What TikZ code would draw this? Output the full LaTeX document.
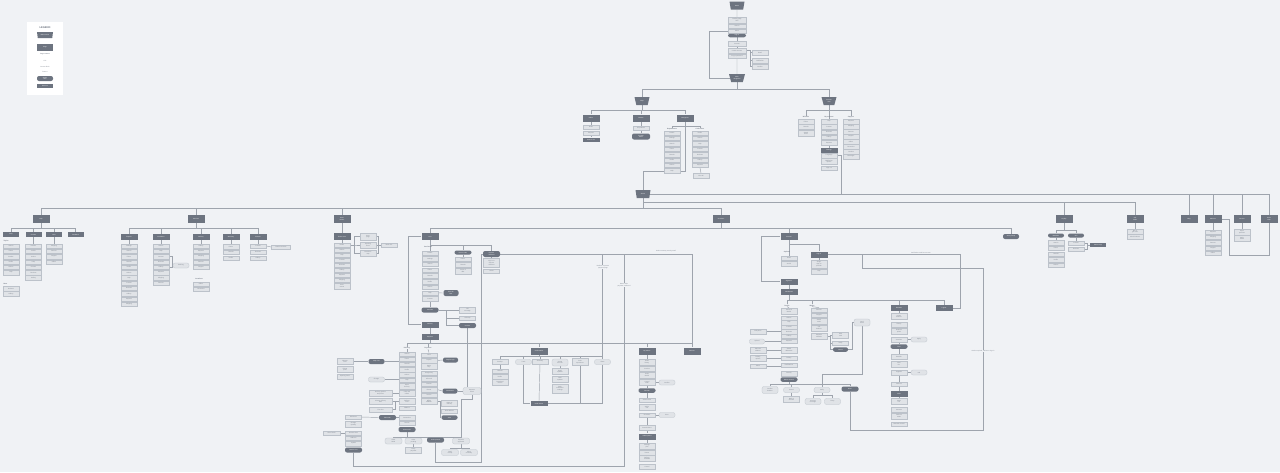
\documentclass[tikz,border=0pt]{standalone}
\usepackage{fontspec}
\setmainfont{Liberation Sans}
\usetikzlibrary{shapes.geometric}
\definecolor{bgc}{HTML}{F0F2F5}
\definecolor{dk}{HTML}{6D7480}
\definecolor{lt}{HTML}{E0E3E7}
\definecolor{ltb}{HTML}{BCC2CA}
\definecolor{lnc}{HTML}{9EA4AD}
\definecolor{tx}{HTML}{767D88}
\pgfdeclarelayer{bottom}\pgfdeclarelayer{back}
\pgfsetlayers{bottom,back,main}
\newcommand\tf{\fontsize{1.5}{1.7}\selectfont}
\newcommand\tfb{\fontsize{1.6}{1.8}\selectfont\bfseries}
\newcommand\lblword[1]{\ifcase#1 Overview\or Details\or Settings\or Search\or Filters\or Results\or Profile\or Orders\or Help\or Contact\or Reviews\or Gallery\or Payment\or Shipping\or Returns\or Support\or Offers\or Favourites\or Location\or Messages\fi}
\newcommand\lcol[6]{\foreach \i in {1,...,#4}{\pgfmathtruncatemacro\kk{mod(\i+#6,20)}\node[lb] (#1\i) at (#2,{#3+(\i-1)*#5}) {\lblword{\kk}};}}
\tikzset{
 cn/.style={draw=lnc, line width=0.45pt},
 db/.style={rectangle, fill=dk, text=white, font=\tf, align=center, minimum width=17pt, minimum height=7pt, inner sep=0.3pt},
 dp/.style={db, rounded corners=2pt, minimum height=5pt},
 lb/.style={rectangle, fill=lt, draw=ltb, line width=0.25pt, text=tx, font=\tf, align=center, minimum width=16pt, minimum height=4.4pt, inner sep=0.3pt},
 lp/.style={lb, rounded corners=2pt, minimum height=5pt},
 hd/.style={text=dk, font=\tfb, inner sep=0.3pt},
 note/.style={text=tx, font=\tf, align=center, inner sep=0.4pt},
 tr/.style={trapezium, trapezium angle=68, trapezium stretches=true, shape border rotate=180, fill=dk, text=white, font=\tf, align=center, minimum width=15pt, minimum height=8pt, inner sep=0pt},
 hh/.style={minimum height=#1pt}, ww/.style={minimum width=#1pt},
}
\begin{document}
\begin{tikzpicture}[x=1pt,y=-1pt]
\begin{pgfonlayer}{bottom}
\fill[bgc] (0,0) rectangle (1280,472);
\end{pgfonlayer}
\useasboundingbox (0,0) rectangle (1280,472);

% ---------- legend
\node[fill=white, minimum width=36pt, minimum height=73pt, inner sep=0pt] (leg) at (45,58.5) {};
\node[text=dk, font=\fontsize{2.6}{3}\selectfont\bfseries] (legt) at (45,27.5) {LEGEND};
\node[tr, minimum width=16pt, minimum height=6pt] (legA) at (45,35) {Main section};
\node[db, ww=16] (legB) at (45,47) {Page};
\node[note] (legC) at (45,54) {\bfseries Page content};
\node[note] (legD) at (45,61) {Link};
\node[note] (legE) at (45,66.5) {Content block};
\node[note] (legF) at (45,72) {Feature};
\node[dp, ww=16] (legG) at (45,78.5) {Action\\flow};
\node[db, ww=16, hh=4] (legH) at (45,85.5) {External};

% ---------- top
\node[tr] (t0) at (737,5.5) {Home};
\node[lb, ww=18, hh=6] (a1) at (737,20) {Landing page\\hero};
\node[lb, ww=18] (a2) at (737,26) {Search};
\node[lb, ww=18] (a3) at (737,31) {Menu};
\node[dp, ww=18, hh=3.5] (a4) at (737,35.5) {Sign in};
\node[lb, ww=18] (a5) at (737,43.5) {Account};
\node[lb, ww=18, hh=5] (a6) at (737,50.5) {Create account};
\node[lb, ww=18] (a7) at (737,56) {Forgot password};
\node[lb] (b1) at (760,52.5) {Email};
\node[lb, hh=5] (b2) at (760,60.5) {Verification};
\node[lb] (b3) at (760,66.5) {Confirm};
\node[tr, ww=16] (t1) at (737,78) {Main\\navigation};
\node[tr] (t2) at (642,101) {Shop};
\node[tr] (t3) at (829,101) {Account\\area};

% ---------- second row
\node[db] (c1) at (591,118) {Offers};
\node[db] (c2) at (641,118) {Browse};
\node[db] (c3) at (685,118) {Categories};
\node[lb] (c1a) at (591,127) {Deals};
\node[lb] (c1b) at (591,133) {Coupons};
\node[db, hh=4] (c1c) at (591,139.5) {Partner site};
\node[lb] (c2a) at (641,128) {All products};
\node[dp, ww=18, hh=6] (c2b) at (641,136.5) {Product\\detail};
\node[hd] (c3h1) at (672,129) {Departments};
\node[hd] (c3h2) at (700,129) {Collections};
\lcol{c3l}{672}{133}{8}{5.4}{0}
\lcol{c3r}{700}{133}{7}{5.4}{5}
\node[lb] (c3x) at (701,175.5) {View all};

\node[hd] (d1h) at (806,117) {Wishlist};
\lcol{d1}{806}{121.5}{2}{5}{3}
\node[lb, hh=6] (d1c) at (806,133.5) {Saved\\items};
\node[hd] (d2h) at (829,117) {My account};
\lcol{d2}{829}{121.5}{5}{5.3}{7}
\node[db, hh=5] (d2f) at (829,150.5) {Settings};
\node[lb] (d2g) at (829,155.5) {Language};
\node[lb, hh=6] (d2h) at (829,161.5) {Notification\\options};
\node[lb] (d2i) at (829,168) {Sign out};
\node[hd] (d3h) at (851,117) {Support};
\lcol{d3}{851}{121.5}{8}{5}{11}

% ---------- level 3
\node[tr] (t4) at (643,194) {Stores};
\node[db, hh=8] (n41) at (41,219) {Help};
\node[db, hh=8] (n196) at (196,219) {Services};
\node[db, hh=8] (n342) at (342,219) {Store\\locator};
\node[db, hh=8] (n721) at (721,219) {Checkout};
\node[db, hh=8] (n1064) at (1064,219) {Loyalty};
\node[db, hh=8] (n1135) at (1135,219) {Gift\\cards};
\node[db, hh=8] (n1189) at (1189,219) {Blog};
\node[db, hh=8] (n1213) at (1213,219) {About us};
\node[db, hh=8] (n1242) at (1242,219) {Careers};
\node[db, hh=8] (n1269) at (1269,219) {Press\\room};

% help
\node[db, hh=5, ww=16] (e1) at (11,234.5) {FAQ};
\node[db, hh=5, ww=16] (e2) at (33.5,234.5) {Contact};
\node[db, hh=5, ww=16] (e3) at (54,234.5) {Chat};
\node[db, hh=5, ww=16] (e4) at (75.5,234.5) {Feedback};
\node[hd, anchor=west] (e1h) at (3,241) {Topics};
\lcol{e1c}{11}{246}{6}{5.3}{2}
\node[hd, anchor=west] (e1k) at (3,284) {More};
\lcol{e1d}{11}{288.5}{2}{5.3}{9}
\lcol{e2c}{33.5}{246}{7}{5.3}{4}
\lcol{e3c}{54}{246}{4}{5.3}{12}

% services
\node[db, hh=6] (f1) at (129,237) {Repairs};
\node[db, hh=6] (f2) at (161,237) {Installation};
\node[db, hh=6] (f3) at (201,237) {Delivery};
\node[db, hh=6] (f4) at (231,237) {Warranty};
\node[db, hh=6] (f5) at (258,237) {Rentals};
\lcol{f1c}{129}{246}{12}{5.3}{1}
\lcol{f2c}{161}{246}{8}{5.3}{6}
\node[lp] (f2p) at (181,265.5) {Booking};
\lcol{f3c}{201}{246}{5}{5.3}{10}
\node[hd] (f3h) at (199,279) {Locations};
\lcol{f3d}{201}{284}{2}{5.3}{15}
\lcol{f4c}{231}{246.5}{3}{5.8}{3}
\lcol{f5c}{258}{246}{3}{6}{8}
\node[lb, ww=19] (f5x) at (281,247) {Partner services};

% store locator
\node[db] (g0) at (342,236.5) {Find a store};
\lcol{gc}{342}{245}{8}{5}{5}
\node[lb, hh=6] (g9) at (342,286) {Store\\events};
\node[lb, hh=7] (g2a) at (368,236.5) {Store\\page};
\node[lb, hh=6] (g2b) at (368,245) {Opening\\hours};
\node[lb, hh=6] (g2c) at (368,253) {Directions\\map};
\node[lb] (g3) at (389,245) {Book visit};

% ---------- checkout / cart region
\node[db] (h0) at (430,236.5) {Cart};
\node[dp, hh=4] (hp1) at (463,252.5) {Promo code};
\node[dp, hh=6] (hp2) at (491.5,254) {Express\\checkout};
\node[hd] (hh0) at (428,247) {Cart items};
\lcol{hc}{430}{253}{9}{5.7}{0}
\node[dp, ww=15, hh=6] (hq) at (451,293) {Save for\\later};
\node[dp, hh=5] (hr) at (430,310) {Continue};
\node[lb, hh=6] (hs1) at (467.5,310) {Gift\\message};
\node[lb] (hs2) at (467.5,318) {Gift wrap};
\node[dp] (hs3) at (467.5,325.5) {Confirm};
\node[db, hh=6] (ht) at (430,324.5) {Delivery};
\node[db, hh=6] (hu) at (430,337) {Payment};
\lcol{hpa}{463}{259}{2}{5.5}{3}
\node[lb, hh=6] (hpa3) at (463,271) {Terms of\\offer};
\node[lb, hh=9] (hpb1) at (491.5,263) {Sign in to\\express\\checkout};
\node[lb] (hpb2) at (491.5,271) {Guest};

\node[hd] (hh1) at (407,348) {Delivery};
\node[hd] (hh2) at (428,348) {Payment};
\lcol{hL}{407}{354}{6}{5.2}{2}
\node[lb, hh=6] (hL7) at (407,386) {Home\\delivery};
\node[lb, hh=6] (hL8) at (407,393) {Click and\\collect};
\node[lb, hh=6] (hL9) at (407,401.5) {Delivery\\slots};
\node[lb] (hL10) at (407,408) {Address};
\node[lb] (hL11) at (407,417.5) {Instructions};
\node[lb] (hL12) at (407,423) {Review};
\node[dp, hh=5] (hLd) at (407,429.5) {Place order};
\node[lb] (hM1) at (429,355) {Card};
\node[lb] (hM2) at (429,360.5) {PayPal};
\node[lb, hh=6] (hM3) at (429,366.5) {Apple\\Pay};
\node[lb] (hM4) at (429,373) {Google Pay};
\node[lb] (hM5) at (429,378.5) {Gift card};
\node[lb] (hM6) at (429,384) {Voucher};
\node[lb] (hM7) at (429,389.5) {Klarna};
\node[lb] (hM8) at (429,395) {Invoice};
\node[lb, hh=6] (hM9) at (429,401.5) {Billing\\address};
\node[dp, ww=15] (hMp1) at (450.5,360) {PayPal login};
\node[dp, ww=15] (hMp2) at (450,391) {Instalments};
\node[lb, hh=6] (hMg1) at (449.5,403.5) {Same as\\delivery};
\node[lb] (hMg2) at (449.5,411) {New address};
\node[dp, ww=16, hh=4.5] (hMg3) at (449.5,417.5) {Save};
\node[lp, ww=18, hh=7] (hN) at (472,391) {Payment\\check};
\node[dp, ww=16] (hP) at (376.5,361.5) {Map view};
\node[lb, hh=6] (hQ1) at (345,361.5) {Nearest\\store};
\node[lb, hh=6] (hQ2) at (345,369.5) {Pickup\\point};
\node[lb] (hQ3) at (345,376.5) {Opening hours};
\node[lp, ww=16] (hR) at (376.5,379.5) {Change};
\node[lb, ww=23, hh=6] (hS1) at (380.5,393) {Delivery options\\and prices};
\node[lb, ww=23, hh=6] (hS2) at (380.5,401.5) {Choose delivery\\date};
\node[lb, ww=23] (hS3) at (380.5,409.5) {Time slot};
\node[dp] (hT) at (387.5,417.5) {Edit order};
\node[lb] (hU1) at (353.5,417) {Edit items};
\node[lb, hh=6] (hU2) at (353.5,424) {Change\\quantity};
\node[lb] (hU3) at (353.5,433) {Remove item};
\node[lb] (hU4) at (353.5,438.3) {Add item};
\node[lb] (hU5) at (353.5,443.6) {Update};
\node[dp] (hx) at (353.5,450) {Back to cart};
\node[lb, ww=17] (hV) at (331.5,433) {Out of stock};
\node[lp, ww=17, hh=6] (hO2) at (393.5,441) {Order\\failed};
\node[lp, ww=17, hh=6] (hO3) at (413.5,441) {Order\\pending};
\node[lb, hh=6] (hO4) at (413.5,450) {Retry\\payment};
\node[dp, ww=17] (hO5) at (435.5,440) {Order placed};
\node[lp, ww=17, hh=6] (hO1) at (461,441) {Payment\\approved};
\node[lp, ww=17, hh=6] (hO6) at (450,452.5) {Send\\receipt};
\node[lp, ww=17, hh=6] (hO7) at (469,452.5) {Show\\summary};

\node[db] (hv0) at (539,351) {Confirmation};
\node[lb, hh=5] (hv1) at (500,362) {Receipt};
\node[lp] (hv2) at (523.5,362) {Track};
\node[lb] (hv3) at (540,361.5) {Summary};
\node[lp, hh=7] (hv4) at (560,362.5) {Create\\account};
\node[lb, hh=7] (hv5) at (580,362) {Rate\\experience};
\node[lp] (hv6) at (602.5,362) {Share};
\lcol{hva}{500}{371}{2}{5.5}{4}
\node[lb, hh=6] (hva3) at (500,382.5) {Download\\invoice};
\node[lb, hh=6] (hvb1) at (560,371.5) {Email\\updates};
\node[lb, hh=6] (hvb2) at (560,379) {SMS\\updates};
\node[lb, hh=9] (hvb3) at (560,388.5) {Push\\notification\\settings};
\node[db, hh=5] (hv7) at (539,403.5) {Order status};

\node[db] (hw1) at (647,351) {My orders};
\node[db] (hw2) at (692,351) {Returns};
\node[lb, hh=6] (hwc1) at (647,362) {Order\\history};
\node[lb] (hwc2) at (647,368.5) {Invoices};
\node[lb, hh=6] (hwc3) at (647,375) {Order\\details};
\node[lb, hh=6] (hwc4) at (647,382.5) {Cancel\\order};
\node[lp] (hwp1) at (667,382.5) {Confirm};
\node[dp, hh=4.5] (hwd1) at (647,390.5) {Reorder};
\node[lb] (hwe1) at (647,400) {Select items};
\node[lb, hh=6] (hwe2) at (647,407.5) {Add to\\cart};
\node[lb] (hwe3) at (647,415) {Checkout};
\node[lp] (hwp2) at (667,415) {Error};
\node[lb] (hwf) at (647,427.5) {Reorder done};
\node[db, hh=6] (hwd2) at (647,436.5) {Subscriptions};
\node[lb, hh=6] (hwg1) at (647,446) {Manage\\plan};
\node[lb] (hwg2) at (647,452.5) {Pause};
\node[lb, hh=6] (hwg3) at (647,458.5) {Delivery\\schedule};
\node[lb] (hwg4) at (647,466.5) {Cancel};

\node[note, fill=bgc] (lab1) at (603,267) {Redirect to partner\\payment page};
\node[note, fill=bgc] (lab2) at (624,285) {Return after\\payment confirmed};
\node[note] (lab3) at (666,251) {Order summary sent by email};

% ---------- account region
\node[db] (j0) at (789,236.5) {Account};
\node[db, hh=6] (j1) at (819,254.5) {Sign in};
\node[hd] (jh) at (787,252) {Options};
\node[lb] (jc1) at (789,258) {Email};
\node[lb] (jc2) at (789,263.5) {Social};
\node[lb, hh=8] (j1a) at (819,264) {Single\\sign-on\\provider};
\node[lb] (j1b) at (819,271.5) {Help};
\node[db, hh=6] (j2) at (789,281.5) {Signed in};
\node[db, hh=6] (j3) at (789,292) {Dashboard};
\node[hd] (jh1) at (787,305.5) {Profile};
\node[hd] (jh2) at (812,305.5) {Wallet};
\node[db, hh=6] (j8) at (899,308) {Rewards};
\node[db, hh=6] (j9) at (944,308) {Logout};
\node[lb, hh=6] (jA1) at (789,311) {Personal\\details};
\lcol{jAc}{789}{318}{6}{4.6}{6}
\node[lb, hh=6] (jA8) at (789,350) {Saved\\addresses};
\node[lb] (jA9) at (789,358) {Privacy};
\node[lb] (jA10) at (789,365) {Notifications};
\node[lb, hh=5] (jA11) at (789,373.5) {Security};
\node[dp, hh=4.5] (jAd) at (789,379.5) {Delete account};
\node[lb] (jL1) at (758,331.5) {Edit photo};
\node[lp, ww=15] (jL2) at (757,341.5) {Upload};
\node[lb, hh=6] (jL3) at (758,350) {Add new\\address};
\node[lb, hh=6] (jL4) at (758,358) {Privacy\\options};
\node[lb] (jL5) at (758,366) {Alerts};
\lcol{jBc}{819}{310}{2}{5}{13}
\node[lb, hh=6] (jB3) at (819,321) {Saved\\cards};
\node[lb, hh=6] (jB4) at (819,328) {Gift\\balance};
\node[lb, hh=6] (jB5) at (819,336) {Payment\\methods};
\node[lb, hh=6] (jC1) at (840.5,335) {Add\\card};
\node[lb] (jC2) at (840.5,343) {Verify};
\node[dp, ww=15, hh=4.5] (jC3) at (840.5,349.5) {Saved};
\node[lp, hh=7] (jD) at (862,322.5) {Card\\check};
\node[lp, hh=7] (jE1) at (770,390) {Confirm\\deletion};
\node[lp] (jE2) at (791.5,390) {Cancel};
\node[lb, hh=6] (jE2b) at (791.5,399.5) {Back to\\account};
\node[lp] (jE3) at (822,390) {Verify};
\node[dp] (jp) at (850,389) {Done};
\node[lp, hh=6] (jE4) at (813,401.5) {Success\\message};
\node[lp, hh=6] (jE5) at (832.5,401.5) {Retry};
\node[lb, hh=6] (jF1) at (899,316.5) {Points\\balance};
\node[lb] (jF2) at (899,324.5) {History};
\node[lb, hh=6] (jF3) at (899,331) {Redeem\\points};
\node[lb] (jF4) at (899,339.5) {Vouchers};
\node[lp] (jFp1) at (919,339.5) {Apply};
\node[dp, hh=4.5] (jF5) at (899,346.5) {Tiers};
\node[lb] (jF6) at (899,356.5) {Benefits};
\node[lb, hh=6] (jF7) at (899,364) {Next\\tier};
\node[lb] (jF8) at (899,372.5) {Upgrade};
\node[lp] (jFp2) at (919,372.5) {Info};
\node[lb] (jF9) at (899,384) {Referral};
\node[db, hh=6] (jF10) at (899,394) {Invite};
\node[lb, hh=6] (jF11) at (899,401.5) {Share\\link};
\node[lb] (jF12) at (899,409.5) {Contacts};
\node[lb, hh=6] (jF13) at (899,416) {Referral\\status};
\node[lb] (jF14) at (899,424) {Rewards earned};
\node[note] (lab4) at (921,252.5) {Verification email sent to user};
\node[note, fill=bgc] (lab5) at (983,351) {Session expired, redirect to sign in};
\node[dp, ww=16] (k0) at (1011,236.5) {Store pickup};

% ---------- far right
\node[dp, ww=16, hh=4] (m1) at (1056,235.5) {Members};
\node[dp, ww=16, hh=4] (m2) at (1076,235.5) {Join};
\lcol{m1c}{1056}{242.5}{5}{5.7}{2}
\lcol{m2c}{1076}{243}{2}{6}{8}
\node[db, ww=16, hh=4] (m3) at (1098,245) {Partner app};
\node[lb, hh=5] (p1) at (1135,231.5) {Buy a\\gift card};
\node[lb, hh=5] (p2) at (1135,237) {Check balance};
\lcol{rc}{1213}{232}{5}{5.3}{11}
\node[lb, hh=6] (s1) at (1242,232) {Open\\positions};
\node[lb, hh=6] (s2) at (1242,238.5) {Apply\\online};

\coordinate (j841) at (841,194);
\coordinate (q1) at (481,462);
\coordinate (q2) at (624,466);
\coordinate (jq) at (960,280);
\coordinate (js1) at (862,268);
\coordinate (js2) at (983,430);
\coordinate (w1) at (1229,255);

% ---------- connectors
\begin{pgfonlayer}{back}
\draw[cn] (t0.south) -- (a1.north);
\draw[cn] (a4.south) -- (a5.north);
\draw[cn] (a5.south) -- (a6.north);
\draw[cn] (a7.south) -- (t1.north);
\foreach \n in {b1,b2,b3} \draw[cn] (a6.east) -- ++(4,0) |- (\n.west);
\draw[cn] (a3.west) -- ++(-19,0) |- (t1.west);
\draw[cn] (t1.south) -- ++(0,7) -| (t2.north);
\draw[cn] (t1.south) -- ++(0,7) -| (t3.north);
\foreach \n in {c1,c2,c3} \draw[cn] (t2.south) -- ++(0,5) -| (\n.north);
\draw[cn] (c1.south) -- (c1a.north);
\draw[cn] (c1b.south) -- (c1c.north);
\draw[cn] (c2.south) -- (c2a.north);
\draw[cn] (c2a.south) -- (c2b.north);
\draw[cn] (c3.south) -- ++(0,4.5) -| (c3h1.north);
\draw[cn] (c3.south) -- ++(0,4.5) -| (c3h2.north);
\draw[cn] (c3r7.south) -- (c3x.north);
\draw[cn] (c3.south) -- ++(0,50) -| (t4.north);
\foreach \n in {d1h,d2h,d3h} \draw[cn] (t3.south) -- ++(0,5) -| (\n.north);
\draw[cn] (d25.south) -- (d2f.north);
\draw[cn] (d2g.east) -| (j841);
\foreach \n in {n1189,n1213,n1242,n1269} \draw[cn] (t4.east) -| (\n.north);
\foreach \n in {n1064,n1135} \draw[cn] (t4.south) -- ++(0,4) -| (\n.north);
\foreach \n in {n41,n196,n342,n721} \draw[cn] (t4.south) -- ++(0,10) -| (\n.north);
\foreach \n in {e1,e2,e3,e4} \draw[cn] (n41.south) -- ++(0,5) -| (\n.north);
\draw[cn] (e2.south) -- (e2c1.north);
\draw[cn] (e3.south) -- (e3c1.north);
\foreach \n in {f1,f2,f3,f4,f5} \draw[cn] (n196.south) -- ++(0,5.3) -| (\n.north);
\draw[cn] (f1.south) -- (f1c1.north);
\draw[cn] (f2.south) -- (f2c1.north);
\draw[cn] (f3.south) -- (f3c1.north);
\draw[cn] (f4.south) -- (f4c1.north);
\draw[cn] (f5.south) -- (f5c1.north);
\draw[cn] (f2c3.east) -- ++(3,0) |- (f2p.west);
\draw[cn] (f2c5.east) -- ++(3,0) |- (f2p.west);
\draw[cn] (f5c1.east) -- (f5x.west);
\draw[cn] (n342.south) -- (g0.north);
\draw[cn] (g0.south) -- (gc1.north);
\foreach \n in {g2a,g2b,g2c} \draw[cn] (gc1.east) -- ++(4,0) |- (\n.west);
\draw[cn] (g2b.east) -- (g3.west);
\draw[cn] (g2a.east) -- ++(2.5,0) |- (g3.west);
\draw[cn] (g2c.east) -- ++(2.5,0) |- (g3.west);
\foreach \n in {h0,j0,k0} \draw[cn] (n721.south) -- ++(0,5) -| (\n.north);
\draw[cn] (h0.south) -- ++(0,5.5) -| (hp1.north);
\draw[cn] (h0.south) -- ++(0,5.5) -| (hp2.north);
\draw[cn] (h0.south) -- (hc1.north);
\draw[cn] (hc8.east) -- (hq.west);
\draw[cn] (hc9.south) -- (hr.north);
\draw[cn] (hr.east) -- (hs1.west);
\draw[cn] (hr.east) -- ++(8,0) |- (hs2.west);
\draw[cn] (hr.east) -- ++(8,0) |- (hs3.west);
\draw[cn] (h0.west) -- ++(-13,0) |- (ht.west);
\draw[cn] (ht.south) -- (hu.north);
\draw[cn] (hp1.south) -- (hpa1.north);
\draw[cn] (hp2.south) -- (hpb1.north);
\draw[cn] (hp2.east) -| (hw2.north);
\draw[cn] (hv6.north) -- (hv6.north |- hp2.east);
\draw[cn] (hO5.south) |- (q1) |- (hp2.west);
\draw[cn] (hx.south) |- (q2) -- (q2 |- hp2.east);
\foreach \n in {hh1,hh2,hv0,hw1,hw2} \draw[cn] (hu.south) -- ++(0,3) -| (\n.north);
\draw[cn] (hh1.south) -- (hL1.north);
\draw[cn] (hh2.south) -- (hM1.north);
\draw[cn] (hM2.east) -- (hMp1.west);
\draw[cn] (hM7.east) -- (hMp2.west);
\foreach \n in {hMg1,hMg2,hMg3} \draw[cn] (hM9.east) -- ++(3,0) |- (\n.west);
\draw[cn] (hMp2.east) -- (hN.west);
\draw[cn] (hs3.south) -- (hs3.south |- hN.north);
\draw[cn] (hN.south) -- ++(0,5) -| (hO1.north);
\draw[cn] (hP.east) -- (hP.east -| hL1.west);
\draw[cn] (hP.west) -- (hQ1.east);
\draw[cn] (hR.east) -- (hR.east -| hL1.west);
\draw[cn] (hS1.east) -- (hS1.east -| hL1.west);
\draw[cn] (hS2.east) -- (hS2.east -| hL1.west);
\draw[cn] (hS3.east) -- ++(3,0) |- (hS2.east);
\draw[cn] (hT.east) -- (hT.east -| hL1.west);
\draw[cn] (hT.west) -- (hU1.east);
\draw[cn] (hV.east) -- (hU3.west);
\foreach \n in {hO2,hO3,hO5,hO1} \draw[cn] (hLd.south) -- ++(0,5) -| (\n.north);
\draw[cn] (hO3.south) -- (hO4.north);
\draw[cn] (hO1.south) -- ++(0,4) -| (hO6.north);
\draw[cn] (hO1.south) -- ++(0,4) -| (hO7.north);
\foreach \n in {hv1,hv2,hv3,hv4,hv5,hv6} \draw[cn] (hv0.south) -- ++(0,1.5) -| (\n.north);
\draw[cn] (hv1.south) -- (hva1.north);
\draw[cn] (hv4.south) -- (hvb1.north);
\draw[cn] (hv2.south) |- (hv7.west);
\draw[cn] (hv6.south) |- (hv7.east);
\draw[cn] (hv3.south) -- (hv7.north);
\draw[cn] (hv5.south) -- (hv5.south |- hv7.east);
\draw[cn] (hw1.south) -- (hwc1.north);
\draw[cn] (hwc4.east) -- (hwp1.west);
\draw[cn] (hwc4.south) -- (hwd1.north);
\draw[cn] (hwd1.south) -- (hwe1.north);
\draw[cn] (hwe3.east) -- (hwp2.west);
\draw[cn] (hwe3.south) -- (hwf.north);
\draw[cn] (hwf.south) -- (hwd2.north);
\draw[cn] (hwd2.south) -- (hwg1.north);
\draw[cn] (j0.south) -- ++(0,4.5) -| (j1.north);
\draw[cn] (j0.south) -- (jc1.north);
\draw[cn] (j1.south) -- (j1a.north);
\draw[cn] (j1.east) -| (jq) |- (j9.east);
\draw[cn] (j1.east) -| (js1) -| (js2) -| (jp.south);
\draw[cn] (j0.west) -- ++(-19,0) |- (j2.west);
\draw[cn] (j2.south) -- (j3.north);
\foreach \n in {jh1,jh2,j8,j9} \draw[cn] (j3.south) -- ++(0,5) -| (\n.north);
\draw[cn] (jh1.south) -- (jA1.north);
\draw[cn] (jh2.south) -- (jBc1.north);
\foreach \n in {jL1,jL2,jL3,jL4,jL5} \draw[cn] (\n.east) -- (\n.east -| jA1.west);
\foreach \n in {jC1,jC2,jC3} \draw[cn] (jB5.east) -- ++(3,0) |- (\n.west);
\draw[cn] (jC3.east) -- ++(4,0) |- (jD.west);
\draw[cn] (jD.south) -- ++(0,48) -| (jE3.north);
\foreach \n in {jE1,jE2,jE3,jp} \draw[cn] (jAd.south) -- ++(0,2.5) -| (\n.north);
\draw[cn] (jE2.south) -- (jE2b.north);
\foreach \n in {jE4,jE5} \draw[cn] (jE3.south) -- ++(0,3) -| (\n.north);
\draw[cn] (j8.south) -- (jF1.north);
\draw[cn] (jF4.east) -- (jFp1.west);
\draw[cn] (jF8.east) -- (jFp2.west);
\draw[cn] (jF4.south) -- (jF5.north);
\draw[cn] (jF5.south) -- (jF6.north);
\draw[cn] (jF8.south) -- (jF9.north);
\draw[cn] (jF9.south) -- (jF10.north);
\draw[cn] (jF10.south) -- (jF11.north);
\foreach \n in {m1,m2} \draw[cn] (n1064.south) -- ++(0,7) -| (\n.north);
\draw[cn] (m1.south) -- (m1c1.north);
\draw[cn] (m2.south) -- (m2c1.north);
\draw[cn] (m2c1.east) -- ++(3,0) |- (m3.west);
\draw[cn] (m2c2.east) -- ++(3,0) |- (m3.west);
\draw[cn] (n1135.south) -- (p1.north);
\draw[cn] (n1213.south) -- (rc1.north);
\draw[cn] (n1213.east) -| (w1) -| (n1269.south);
\draw[cn] (n1242.south) -- (s1.north);
\end{pgfonlayer}
\end{tikzpicture}
\end{document}
